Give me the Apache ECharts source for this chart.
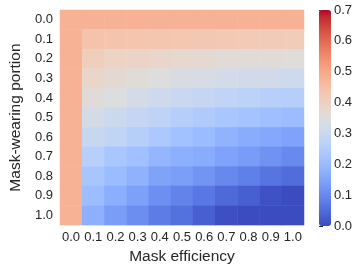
<!DOCTYPE html>
<html>
<head>
<meta charset="utf-8">
<script src="https://cdn.jsdelivr.net/npm/echarts@6/dist/echarts.min.js"></script>
<style>
  html, body { margin: 0; padding: 0; background: #fff; }
  #chart { width: 359px; height: 270px; }
</style>
</head>
<body>
<div id="chart"></div>
<script>
// mask efficiency (x) and mask-wearing portion (y)
const efficiency = ['0.0', '0.1', '0.2', '0.3', '0.4', '0.5', '0.6', '0.7', '0.8', '0.9', '1.0']
const portion = ['0.0', '0.1', '0.2', '0.3', '0.4', '0.5', '0.6', '0.7', '0.8', '0.9', '1.0']
const cbarTicks = ['0.0', '0.1', '0.2', '0.3', '0.4', '0.5', '0.6', '0.7']

// one row per mask-wearing portion
const row00 = [0.48, 0.48, 0.48, 0.48, 0.48, 0.48, 0.48, 0.48, 0.48, 0.48, 0.48]
const row01 = [0.48, 0.44, 0.438, 0.435, 0.432, 0.43, 0.427, 0.424, 0.421, 0.418, 0.415]
const row02 = [0.48, 0.41, 0.395, 0.39, 0.383, 0.376, 0.373, 0.365, 0.36, 0.358, 0.356]
const row03 = [0.48, 0.387, 0.37, 0.36, 0.35, 0.337, 0.33, 0.323, 0.32, 0.316, 0.308]
const row04 = [0.48, 0.357, 0.345, 0.326, 0.31, 0.3, 0.289, 0.282, 0.272, 0.263, 0.256]
const row05 = [0.48, 0.328, 0.305, 0.288, 0.276, 0.258, 0.245, 0.232, 0.221, 0.212, 0.204]
const row06 = [0.48, 0.298, 0.28, 0.256, 0.237, 0.217, 0.203, 0.183, 0.168, 0.16, 0.148]
const row07 = [0.48, 0.26, 0.23, 0.213, 0.19, 0.175, 0.168, 0.147, 0.136, 0.116, 0.1]
const row08 = [0.48, 0.228, 0.203, 0.18, 0.15, 0.14, 0.122, 0.098, 0.084, 0.065, 0.052]
const row09 = [0.48, 0.206, 0.172, 0.143, 0.112, 0.09, 0.07, 0.046, 0.03, 0.01, 0.0]
const row10 = [0.48, 0.176, 0.137, 0.11, 0.077, 0.06, 0.03, 0.004, 0.0, 0.0, 0.0]

const rows = [row00, row01, row02, row03, row04, row05, row06, row07, row08, row09, row10]

// coolwarm (Moreland) colour stops
const coolwarm = [
  '#3b4cc0', '#445acc', '#4d68d7', '#5775e1', '#6282ea', '#6c8ef1', '#779af7', '#82a5fb',
  '#8db0fe', '#98b9ff', '#a3c2ff', '#aec9fd', '#b8d0f9', '#c2d5f4', '#ccd9ee', '#d5dbe6',
  '#dddddd', '#e5d8d1', '#ecd3c5', '#f1ccb9', '#f5c4ad', '#f7bba0', '#f7b194', '#f7a687',
  '#f49a7b', '#f18d6f', '#ec7f63', '#e57058', '#de604d', '#d55042', '#cb3e38', '#c0282f',
  '#b40426'
]

const textColor = '#262626'
const font = 'Liberation Sans, Arial, sans-serif'

let data = []
rows.forEach((row, yi) => {
  row.forEach((v, xi) => {
    data.push([xi, yi, v])
  })
})

const chart = echarts.init(document.getElementById('chart'), null, { renderer: 'canvas' })

const options = {
  backgroundColor: '#ffffff',
  animation: false,
  textStyle: { fontFamily: font },
  grid: [
    { left: 55, right: 55, top: 10, bottom: 44 },
    { left: 319, top: 10, width: 12, height: 216 }
  ],
  xAxis: [{
    type: 'category',
    data: efficiency,
    gridIndex: 0,
    name: 'Mask efficiency',
    nameLocation: 'middle',
    nameGap: 21,
    nameTextStyle: { fontSize: 15.5, color: textColor, fontFamily: font },
    axisLine: { show: false },
    axisTick: { show: false },
    axisLabel: { interval: 0, margin: 6, fontSize: 13, color: textColor, fontFamily: font },
    splitLine: { show: false }
  }, {
    type: 'value',
    gridIndex: 1,
    show: false
  }],
  yAxis: [{
    type: 'category',
    data: portion,
    inverse: true,
    gridIndex: 0,
    name: 'Mask-wearing portion',
    nameLocation: 'middle',
    nameGap: 28,
    nameTextStyle: { fontSize: 15.5, color: textColor, fontFamily: font },
    axisLine: { show: false },
    axisTick: { show: false },
    axisLabel: { interval: 0, margin: 7, fontSize: 13, color: textColor, fontFamily: font },
    splitLine: { show: false }
  }, {
    type: 'value',
    gridIndex: 1,
    position: 'right',
    min: 0,
    max: 0.7,
    interval: 0.1,
    axisLine: { show: false },
    axisTick: { show: true, length: 4, lineStyle: { color: textColor, width: 1 } },
    axisLabel: {
      margin: 3,
      fontSize: 13,
      color: textColor,
      fontFamily: font,
      formatter: (v) => cbarTicks[Math.round(v * 10)]
    },
    splitLine: { show: false }
  }],
  visualMap: {
    type: 'continuous',
    min: 0,
    max: 0.7,
    dimension: 2,
    seriesIndex: 0,
    calculable: false,
    hoverLink: false,
    left: 319,
    top: 10,
    padding: 0,
    itemWidth: 12,
    itemHeight: 216,
    text: null,
    inRange: { color: coolwarm }
  },
  series: [{
    type: 'heatmap',
    xAxisIndex: 0,
    yAxisIndex: 0,
    data: data,
    itemStyle: { borderWidth: 0 },
    emphasis: { disabled: true }
  }]
}

chart.setOption(options, true)
</script>
</body>
</html>
